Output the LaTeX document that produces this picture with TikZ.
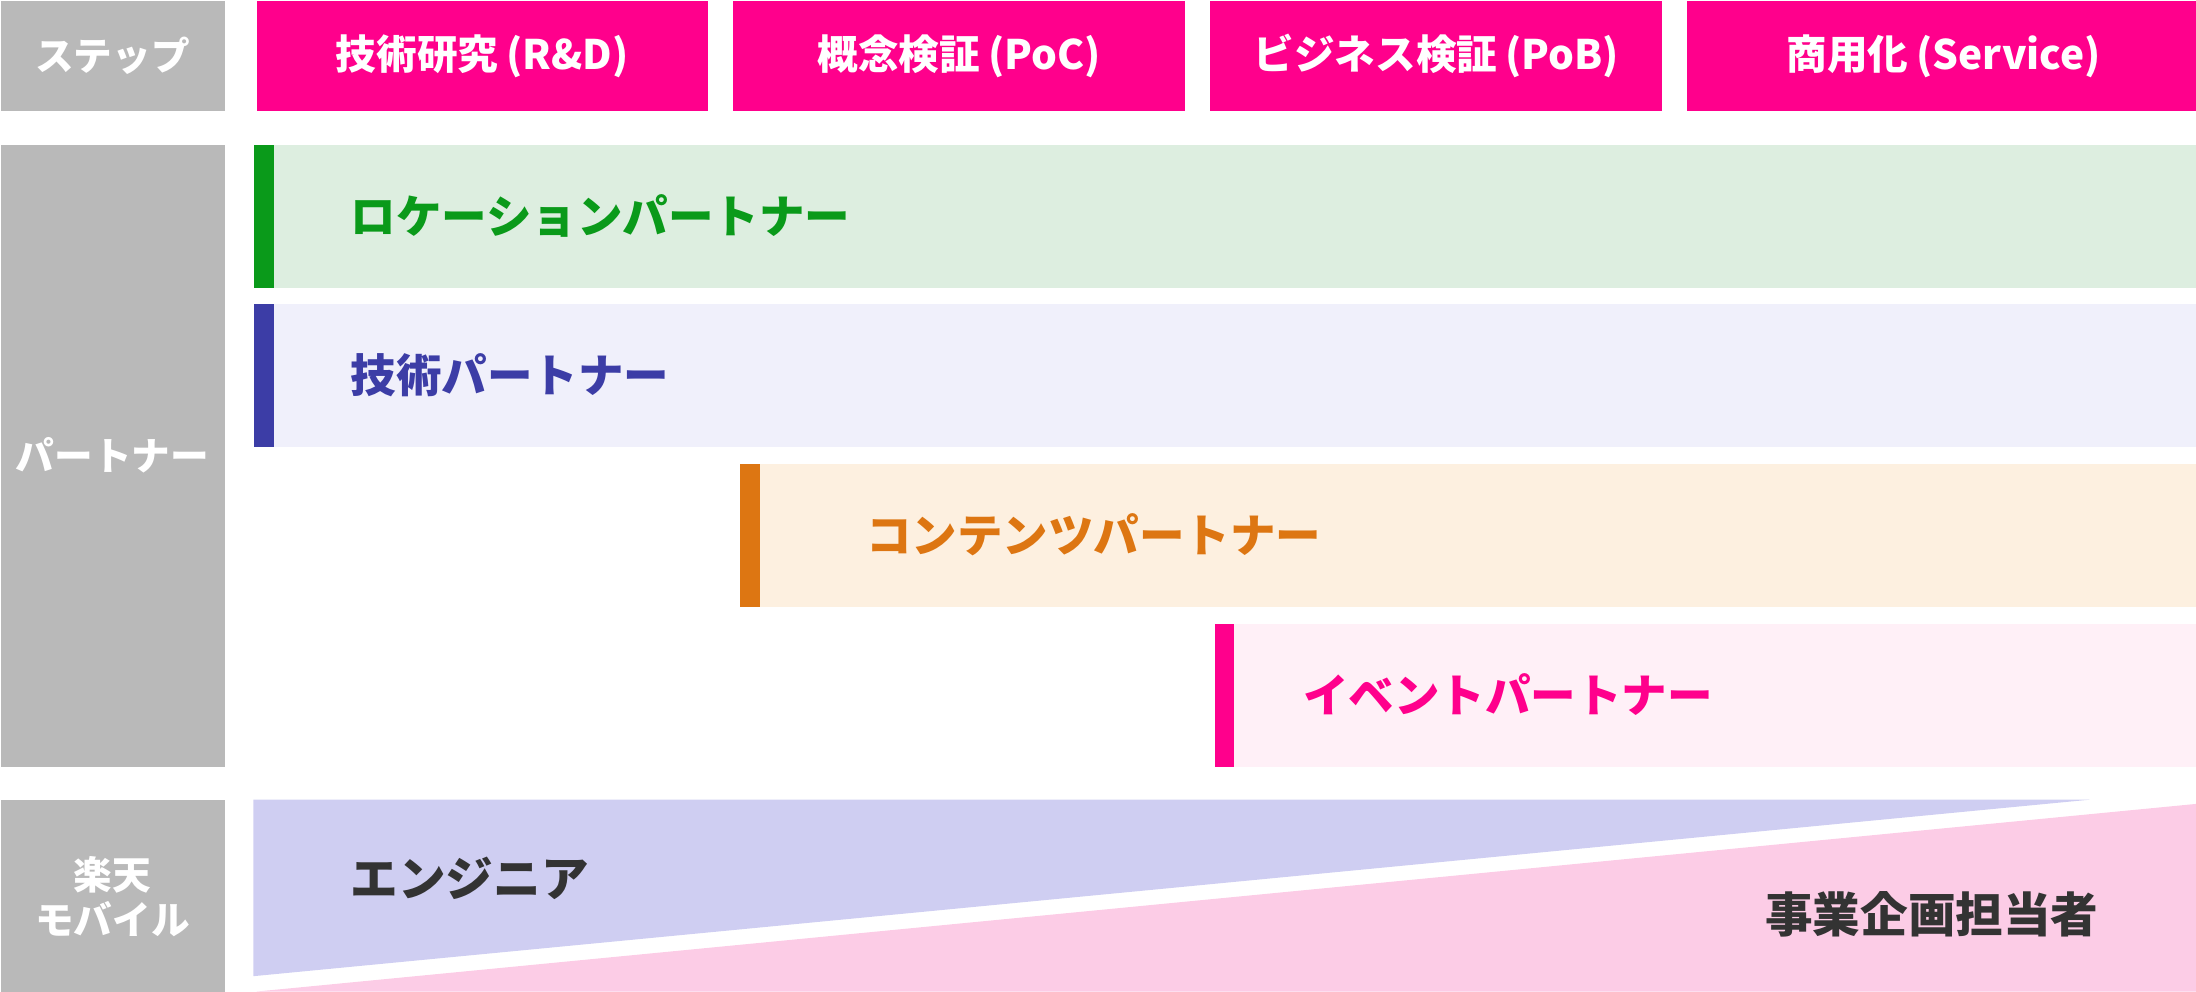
\documentclass[tikz,border=0pt]{standalone}
\usepackage{fontspec}
\setmainfont{Noto Sans CJK JP}
\usetikzlibrary{positioning}

\definecolor{labelgray}{HTML}{B9B9B9}
\definecolor{rmagenta}{HTML}{FF008C}
\definecolor{locbar}{HTML}{0A9A1A}
\definecolor{locfill}{HTML}{DDEEE0}
\definecolor{techbar}{HTML}{3C3DA6}
\definecolor{techfill}{HTML}{F0F0FB}
\definecolor{contbar}{HTML}{DD7612}
\definecolor{contfill}{HTML}{FDF0E0}
\definecolor{eventfill}{HTML}{FFF0F7}
\definecolor{engfill}{HTML}{CFCEF2}
\definecolor{bizfill}{HTML}{FCCCE6}
\definecolor{roletext}{HTML}{333333}

\begin{document}
\begin{tikzpicture}[
    x=0.5pt, y=-0.5pt,
    label_node/.style={rectangle, fill=labelgray, text=white, minimum width=80pt, inner sep=0pt, anchor=north west, align=center, font=\bfseries\fontsize{13.8}{16}\selectfont},
    step_node/.style={rectangle, fill=rmagenta, text=white, minimum height=39.5pt, inner sep=0pt, anchor=north west, font=\bfseries\fontsize{14.5}{17}\selectfont},
    row_node/.style={rectangle, minimum height=51pt, inner sep=0pt, anchor=north west},
    bar_node/.style={rectangle, minimum width=7pt, minimum height=51pt, inner sep=0pt, anchor=north west},
    row_text/.style={anchor=west, inner sep=0pt, font=\bfseries\fontsize{16.25}{19}\selectfont},
    role_text/.style={anchor=west, inner sep=0pt, text=roletext, font=\bfseries\fontsize{17}{20}\selectfont}
]

\useasboundingbox (0,0) rectangle (1568,708);

% Left labels
\node[label_node, minimum height=39.5pt] (lbl_step) at (0,0) {ステップ};
\node[label_node, minimum height=222pt] (lbl_partner) at (0,103) {パートナー};
\node[label_node, minimum height=68.5pt] (lbl_rakuten) at (0,571) {楽天\\モバイル};

% Steps
\node[step_node, minimum width=161pt] (step_rd) at (183,0) {技術研究\hspace{0.2em}(R\&D)};
\node[step_node, minimum width=161.5pt, right=8.5pt of step_rd] (step_poc) {概念検証\hspace{0.2em}(PoC)};
\node[step_node, minimum width=161.5pt, right=8.5pt of step_poc] (step_pob) {ビジネス検証\hspace{0.2em}(PoB)};
\node[step_node, minimum width=183pt, right=8.5pt of step_pob] (step_service) {商用化\hspace{0.2em}(Service)};

% Partner rows
\node[row_node, fill=locfill, minimum width=693.5pt] (row_loc) at (181,103) {};
\node[bar_node, fill=locbar] (bar_loc) at (181,103) {};
\node[row_text, text=locbar] (txt_loc) at (250,154) {ロケーションパートナー};

\node[row_node, fill=techfill, minimum width=693.5pt] (row_tech) at (181,217) {};
\node[bar_node, fill=techbar] (bar_tech) at (181,217) {};
\node[row_text, text=techbar] (txt_tech) at (250,268) {技術パートナー};

\node[row_node, fill=contfill, minimum width=520pt] (row_cont) at (528,331) {};
\node[bar_node, fill=contbar] (bar_cont) at (528,331) {};
\node[row_text, text=contbar] (txt_cont) at (618,382) {コンテンツパートナー};

\node[row_node, fill=eventfill, minimum width=350.5pt] (row_event) at (867,445) {};
\node[bar_node, fill=rmagenta] (bar_event) at (867,445) {};
\node[row_text, text=rmagenta] (txt_event) at (930,496) {イベントパートナー};

% Rakuten Mobile roles
\fill[engfill] (181,571) -- (1492,571) -- (181,697) -- cycle;
\fill[bizfill] (183,708) -- (1568,574) -- (1568,708) -- cycle;
\node[role_text] (txt_eng) at (250,627) {エンジニア};
\node[role_text] (txt_biz) at (1260,653) {事業企画担当者};

\end{tikzpicture}
\end{document}
